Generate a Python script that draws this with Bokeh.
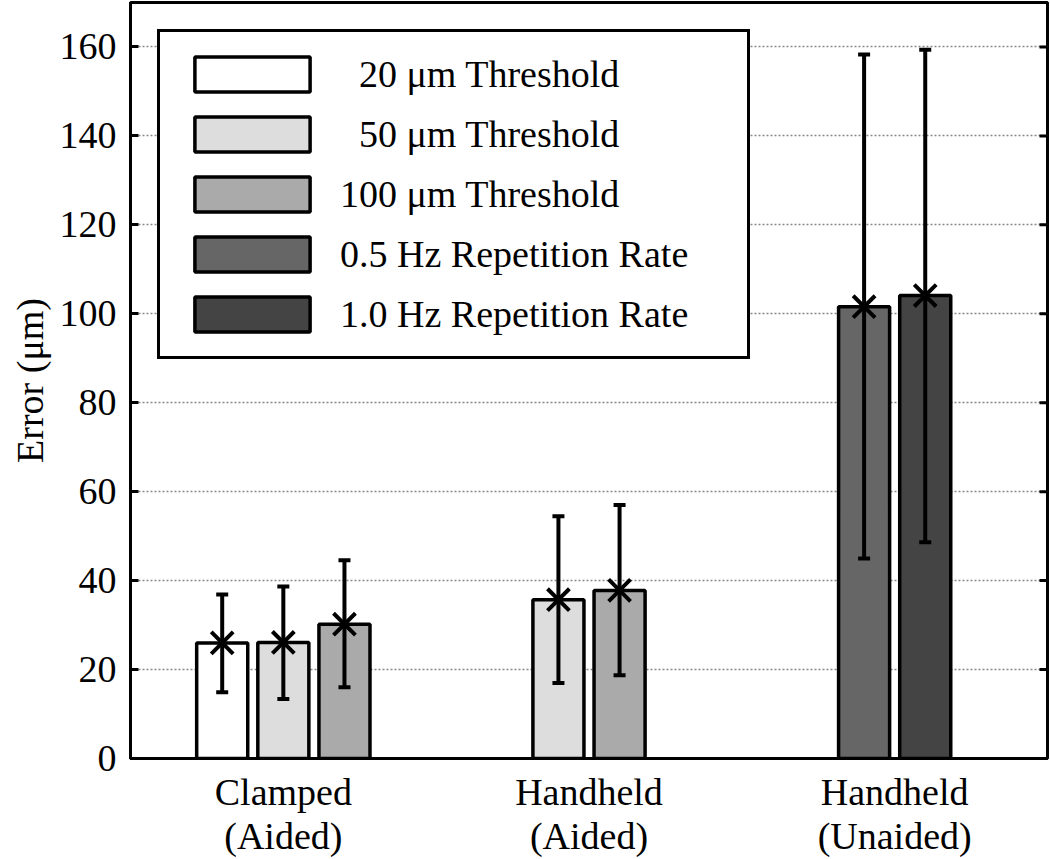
from bokeh.plotting import figure
from bokeh.models import (ColumnDataSource, Whisker, TeeHead, FixedTicker, Legend,
                          LegendItem, Range1d)
from bokeh.embed import file_html
from bokeh.resources import INLINE

# ---- data ----
groups = ["Clamped\n(Aided)", "Handheld\n(Aided)", "Handheld\n(Unaided)"]
series = ["20 \u03bcm Threshold", "50 \u03bcm Threshold", "100 \u03bcm Threshold",
          "0.5 Hz Repetition Rate", "1.0 Hz Repetition Rate"]
colors = ["#ffffff", "#dddddd", "#aaaaaa", "#666666", "#444444"]
means = [[26.0, None, None],
         [26.1, 35.7, None],
         [30.2, 37.8, None],
         [None, None, 101.6],
         [None, None, 104.1]]
lower = [[14.9, None, None],
         [13.4, 17.0, None],
         [16.0, 18.7, None],
         [None, None, 45.0],
         [None, None, 48.6]]
upper = [[36.9, None, None],
         [38.7, 54.5, None],
         [44.6, 57.0, None],
         [None, None, 158.3],
         [None, None, 159.4]]
y_ticks = [0, 20, 40, 60, 80, 100, 120, 140, 160]

FONT = "Liberation Serif"
FS = "38px"

p = figure(width=1050, height=859, output_backend="svg", toolbar_location=None,
           x_range=Range1d(0.5, 3.5), y_range=Range1d(0, 170),
           min_border_left=130, min_border_right=3, min_border_top=2, min_border_bottom=100)
p.background_fill_color = "white"
p.border_fill_color = "white"
p.outline_line_color = "black"
p.outline_line_width = 3

# positions: bars of each group spread around the group centre
present = [[s for s in range(len(series)) if means[s][g] is not None] for g in range(len(groups))]
step, bw = 0.2, 0.167

renderers = []
for s, name in enumerate(series):
    xs, ys, lo, hi = [], [], [], []
    for g in range(len(groups)):
        if means[s][g] is None:
            continue
        idx = present[g].index(s)
        n = len(present[g])
        xs.append(g + 1 + (idx - (n - 1) / 2) * step)
        ys.append(means[s][g])
        lo.append(lower[s][g])
        hi.append(upper[s][g])
    src = ColumnDataSource(dict(x=xs, y=ys, lower=lo, upper=hi))
    r = p.vbar(x="x", top="y", bottom=0, width=bw, source=src, fill_color=colors[s],
               line_color="black", line_width=3.5)
    renderers.append(r)
    w = Whisker(base="x", upper="upper", lower="lower", source=src, line_width=4,
                line_color="black", level="annotation",
                upper_head=TeeHead(size=12, line_width=4, line_color="black"),
                lower_head=TeeHead(size=12, line_width=4, line_color="black"))
    p.add_layout(w)

# markers drawn above the error bars
for s in range(len(series)):
    p.scatter(x="x", y="y", source=renderers[s].data_source, marker="x", size=31,
              line_width=4, line_color="black", level="annotation")

# right-side inward ticks (mirror of the left axis)
p.scatter(x=[p.x_range.end] * len(y_ticks), y=y_ticks, marker="dash", size=16,
          line_width=3, line_color="black")

# axes
p.xaxis.ticker = FixedTicker(ticks=[1, 2, 3])
p.xaxis.major_label_overrides = {i + 1: g for i, g in enumerate(groups)}
p.xaxis.major_tick_in = 0
p.xaxis.major_tick_out = 0
p.xaxis.minor_tick_line_color = None
p.xaxis.axis_line_width = 3
p.xaxis.major_label_text_font = FONT
p.xaxis.major_label_text_font_size = FS
p.xaxis.major_label_text_color = "black"
p.xaxis.major_label_text_line_height = 1.05
p.xaxis.major_label_standoff = 12

p.yaxis.ticker = FixedTicker(ticks=y_ticks)
p.yaxis.major_tick_in = 8
p.yaxis.major_tick_out = 0
p.yaxis.major_tick_line_width = 3
p.yaxis.minor_tick_line_color = None
p.yaxis.axis_line_width = 3
p.yaxis.major_label_text_font = FONT
p.yaxis.major_label_text_font_size = FS
p.yaxis.major_label_text_color = "black"
p.yaxis.major_label_standoff = 14
p.yaxis.axis_label = "Error (\u03bcm)"
p.yaxis.axis_label_text_font = FONT
p.yaxis.axis_label_text_font_size = FS
p.yaxis.axis_label_text_font_style = "normal"
p.yaxis.axis_label_text_color = "black"
p.yaxis.axis_label_standoff = 6

p.xgrid.grid_line_color = None
p.ygrid.ticker = FixedTicker(ticks=y_ticks)
p.ygrid.grid_line_color = "#888888"
p.ygrid.grid_line_width = 1.5
p.ygrid.grid_line_dash = "2 2"

# legend labels: two-digit thresholds padded by one digit width, as in the figure
labels = [("\u2007" + s) if s[:2].isdigit() and not s[:3].isdigit() and "\u03bcm" in s else s
          for s in series]
legend = Legend(items=[LegendItem(label=labels[i], renderers=[renderers[i]]) for i in range(len(series))],
                location=(27, 399))
legend.glyph_width = 144
legend.glyph_height = 44
legend.spacing = 16
legend.padding = 20
legend.label_standoff = 16
legend.label_width = 387
legend.label_text_font = FONT
legend.label_text_font_size = FS
legend.label_text_color = "black"
legend.border_line_color = "black"
legend.border_line_width = 3
legend.border_line_alpha = 1.0
legend.background_fill_color = "white"
legend.background_fill_alpha = 1.0
p.add_layout(legend, "center")

open("out.html", "w").write(file_html(p, INLINE))
